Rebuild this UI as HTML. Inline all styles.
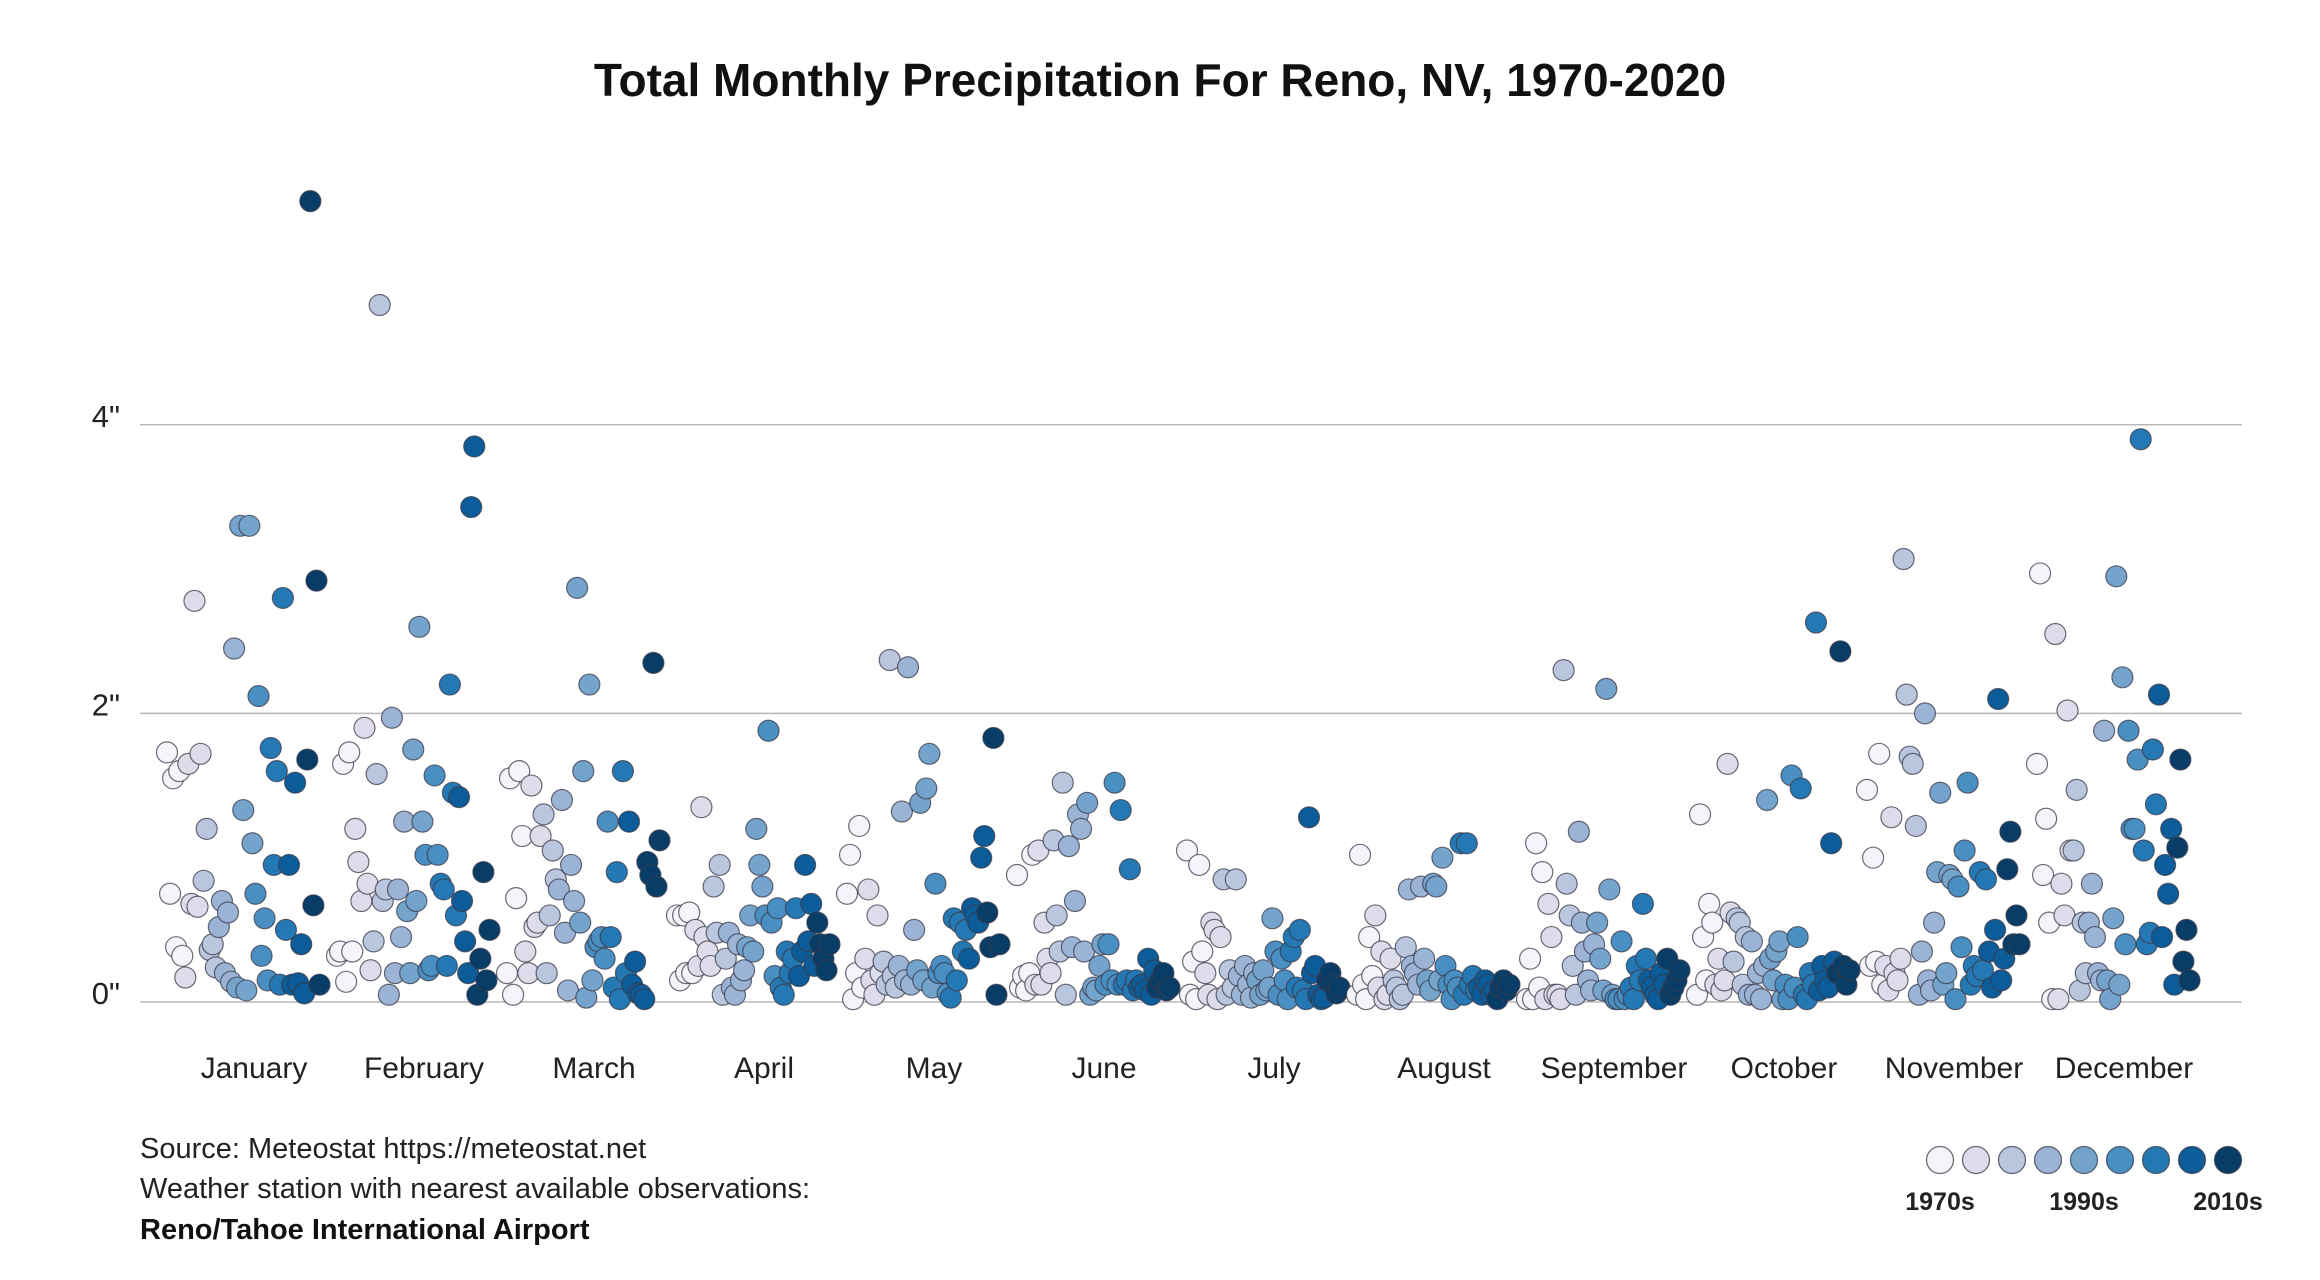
<!DOCTYPE html>
<html><head><meta charset="utf-8">
<style>
html,body{margin:0;padding:0;background:#fff;}
svg{display:block;font-family:"Liberation Sans",sans-serif;}
</style></head>
<body>
<svg id="chart" width="2320" height="1280" viewBox="0 0 2320 1280" xmlns="http://www.w3.org/2000/svg">
<text x="1160" y="96" text-anchor="middle" font-size="46" font-weight="bold" fill="#111">Total Monthly Precipitation For Reno, NV, 1970-2020</text>
<g id="grid"></g>
<g id="points"></g>
<g id="xlabels"></g>
<g font-size="29" fill="#222">
<text x="140" y="1158">Source: Meteostat https://meteostat.net</text>
<text x="140" y="1198">Weather station with nearest available observations:</text>
<text x="140" y="1239" font-weight="bold" fill="#111">Reno/Tahoe International Airport</text>
</g>
<g id="legend"></g>
</svg>
<script>
const months = ["January","February","March","April","May","June","July","August","September","October","November","December"];
const yTicks = [0,2,4];
const yTickLabels = ['0"','2"','4"'];
const decadeLabels = ["1970s","1990s","2010s"];
const palette = ["#f4f4fa","#dcdcea","#bac6de","#9bb3d4","#74a4cc","#4a8fc2","#2479b5","#0b5c98","#083d68"];
const jan = [1.73,0.75,1.55,0.38,1.6,0.32,0.17,1.65,0.68,2.78,0.66,1.72,0.84,1.2,0.36,0.4,0.24,0.52,0.7,0.2,0.62,0.14,2.45,0.1,3.3,1.33,0.08,3.3,1.1,0.75,2.12,0.32,0.58,0.15,1.76,0.95,1.6,0.12,2.8,0.5,0.95,0.12,1.52,0.13,0.4,0.06,1.68,5.55,0.67,2.92,0.12];
const feb = [0.32,0.35,1.65,0.14,1.73,0.35,1.2,0.97,0.7,1.9,0.82,0.22,0.42,1.58,4.83,0.7,0.78,0.05,1.97,0.2,0.78,0.45,1.25,0.63,0.2,1.75,0.7,2.6,1.25,1.02,0.22,0.25,1.57,1.02,0.82,0.78,0.25,2.2,1.45,0.6,1.42,0.7,0.42,0.2,3.43,3.85,0.05,0.3,0.9,0.15,0.5];
const mar = [0.2,1.55,0.05,0.72,1.6,1.15,0.35,0.2,1.5,0.52,0.55,1.15,1.3,0.2,0.6,1.05,0.85,0.78,1.4,0.48,0.08,0.95,0.7,2.87,0.55,1.6,0.03,2.2,0.15,0.38,0.42,0.45,0.3,1.25,0.45,0.1,0.9,0.02,1.6,0.2,1.25,0.12,0.28,0.06,0.05,0.02,0.97,0.88,2.35,0.8,1.12];
const apr = [0.6,0.15,0.6,0.2,0.62,0.2,0.5,0.25,1.35,0.45,0.35,0.25,0.8,0.48,0.95,0.05,0.3,0.48,0.1,0.05,0.4,0.15,0.22,0.38,0.6,0.35,1.2,0.95,0.8,0.6,1.88,0.55,0.18,0.65,0.1,0.05,0.35,0.2,0.3,0.65,0.18,0.35,0.95,0.42,0.68,0.25,0.55,0.4,0.3,0.22,0.4];
const may = [0.75,1.02,0.02,0.2,1.22,0.1,0.3,0.78,0.15,0.05,0.6,0.2,0.28,0.12,2.37,0.18,0.1,0.25,1.32,0.15,2.32,0.12,0.5,0.22,1.38,0.15,1.48,1.72,0.1,0.82,0.2,0.25,0.2,0.06,0.03,0.58,0.15,0.55,0.35,0.5,0.3,0.65,0.6,0.55,1.0,1.15,0.62,0.38,1.83,0.05,0.4];
const jun = [0.88,0.1,0.18,0.08,0.2,1.02,0.12,1.05,0.12,0.55,0.3,0.2,1.12,0.6,0.35,1.52,0.05,1.08,0.38,0.7,1.3,1.2,0.35,1.38,0.05,0.1,0.08,0.25,0.4,0.12,0.4,0.15,1.52,0.12,1.33,0.12,0.15,0.92,0.08,0.15,0.1,0.12,0.08,0.3,0.05,0.22,0.1,0.15,0.2,0.08,0.1];
const jul = [1.05,0.05,0.28,0.02,0.95,0.35,0.2,0.05,0.55,0.5,0.02,0.45,0.85,0.05,0.22,0.1,0.85,0.18,0.05,0.25,0.12,0.03,0.2,0.15,0.05,0.22,0.08,0.1,0.58,0.35,0.05,0.3,0.15,0.02,0.35,0.45,0.1,0.5,0.08,0.02,1.28,0.2,0.25,0.05,0.02,0.03,0.15,0.2,0.12,0.06,0.1];
const aug = [0.05,1.02,0.12,0.02,0.45,0.18,0.6,0.1,0.35,0.02,0.05,0.3,0.15,0.1,0.02,0.05,0.38,0.78,0.25,0.2,0.12,0.8,0.3,0.15,0.08,0.82,0.8,0.15,1.0,0.25,0.12,0.02,0.15,0.1,1.1,0.05,1.1,0.12,0.18,0.08,0.1,0.05,0.15,0.12,0.05,0.08,0.02,0.1,0.15,0.08,0.12];
const sep = [0.02,0.3,0.02,1.1,0.1,0.9,0.02,0.68,0.45,0.05,0.05,0.02,2.3,0.82,0.6,0.25,0.05,1.18,0.55,0.35,0.15,0.08,0.4,0.55,0.3,0.08,2.17,0.78,0.05,0.02,0.02,0.42,0.02,0.05,0.1,0.02,0.25,0.15,0.68,0.3,0.15,0.1,0.05,0.02,0.2,0.12,0.3,0.05,0.1,0.15,0.22];
const oct = [0.05,1.3,0.45,0.15,0.68,0.55,0.12,0.3,0.08,0.15,1.65,0.62,0.28,0.58,0.55,0.12,0.45,0.05,0.42,0.05,0.2,0.02,0.25,1.4,0.3,0.15,0.35,0.42,0.02,0.12,0.02,1.57,0.1,0.45,1.48,0.05,0.02,0.2,0.12,2.63,0.08,0.25,0.15,0.1,1.1,0.28,0.2,2.43,0.25,0.12,0.22];
const nov = [1.47,0.25,1.0,0.28,1.72,0.12,0.25,0.08,1.28,0.2,0.15,0.3,3.07,2.13,1.7,1.65,1.22,0.05,0.35,2.0,0.15,0.08,0.55,0.9,1.45,0.12,0.2,0.88,0.85,0.02,0.8,0.38,1.05,1.52,0.12,0.25,0.18,0.9,0.22,0.85,0.35,0.1,0.5,2.1,0.15,0.3,0.92,1.18,0.4,0.6,0.4];
const dec = [1.65,2.97,0.88,1.27,0.55,0.02,2.55,0.02,0.82,0.6,2.02,1.05,1.05,1.47,0.08,0.55,0.2,0.55,0.82,0.45,0.2,0.15,1.88,0.15,0.02,0.58,2.95,0.12,2.25,0.4,1.88,1.2,1.2,1.68,3.9,1.05,0.4,0.48,1.75,1.37,2.13,0.45,0.95,0.75,1.2,0.12,1.07,1.68,0.28,0.5,0.15];
const monthValues = [jan,feb,mar,apr,may,jun,jul,aug,sep,oct,nov,dec];

const NS = "http://www.w3.org/2000/svg";
const y0 = 1002, pxPerInch = 144.3;
function yScale(v){ return y0 - v*pxPerInch; }
function monthStart(m){ return 167 + m*170; }
function xScale(m,i){ return monthStart(m) + i*3.05; }
function colorFor(i,n){ return palette[Math.min(8, Math.floor(i*9/n))]; }
function mk(tag, attrs, parent){ const e=document.createElementNS(NS,tag); for(const k in attrs) e.setAttribute(k,attrs[k]); parent.appendChild(e); return e; }

const grid = document.getElementById('grid');
yTicks.forEach((t,k)=>{
  const ln = mk('line',{x1:140,x2:2242,y1:yScale(t),y2:yScale(t),stroke:'#b8b8b8','stroke-width':1.5},grid);
  
  
  const tx = mk('text',{x:120,y:yScale(t)+2,'text-anchor':'end','font-size':31,fill:'#222'},grid);
  tx.textContent = yTickLabels[k];
  
  
});

const pts = document.getElementById('points');
monthValues.forEach((vals,m)=>{
  vals.forEach((v,i)=>{
    const c = mk('circle',{cx:xScale(m,i),cy:yScale(v),r:10.5,fill:colorFor(i,vals.length),stroke:'#3a3a4a','stroke-width':1.2,'stroke-opacity':0.75},pts);
    
    
  });
});

const xl = document.getElementById('xlabels');
months.forEach((mn,m)=>{
  const t = mk('text',{x:monthStart(m)+87,y:1078,'text-anchor':'middle','font-size':30,fill:'#222'},xl);
  t.textContent = mn;
  
  
});

const lg = document.getElementById('legend');
palette.forEach((col,k)=>{
  const c = mk('circle',{cx:1940+k*36,cy:1160,r:13.5,fill:col,stroke:'#3a3a4a','stroke-width':1.3,'stroke-opacity':0.75},lg);
  
  
});
decadeLabels.forEach((d,k)=>{
  const t = mk('text',{x:1940+k*4*36,y:1210,'text-anchor':'middle','font-size':25,'font-weight':'bold',fill:'#222'},lg);
  t.textContent = d;
  
  
});
</script>
</body></html>
